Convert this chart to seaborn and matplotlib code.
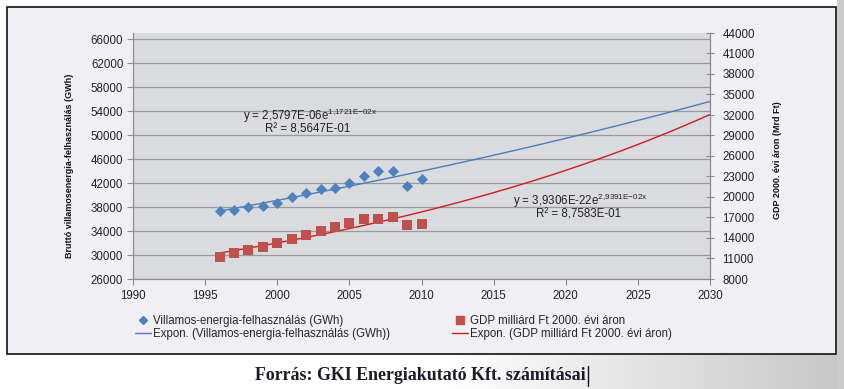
import numpy as np
import matplotlib
matplotlib.use("Agg")
import matplotlib.pyplot as plt
from matplotlib.lines import Line2D
from matplotlib.patches import Rectangle
from matplotlib import font_manager
import seaborn as sns
import pandas as pd

# ---------------- data ----------------
years = [1996, 1997, 1998, 1999, 2000, 2001, 2002, 2003, 2004, 2005, 2006, 2007, 2008, 2009, 2010]
elec_gwh = [37350, 37550, 37950, 38200, 38650, 39600, 40400, 41050, 41150, 41950, 43100, 44000, 43950, 41450, 42650]
gdp_mrd = [11250, 11750, 12300, 12700, 13300, 13900, 14450, 15000, 15650, 16250, 16750, 16800, 17000, 15850, 16100]

# exponential trend coefficients shown on chart: y = a * e^(b x)
elec_trend = [2.5797e-06, 1.1721e-02]
gdp_trend = [3.9306e-22, 2.9391e-02]
trend_span = [1996, 2030]

x_ticks = [1990, 1995, 2000, 2005, 2010, 2015, 2020, 2025, 2030]
left_ticks = [26000, 30000, 34000, 38000, 42000, 46000, 50000, 54000, 58000, 62000, 66000]
right_ticks = [8000, 11000, 14000, 17000, 20000, 23000, 26000, 29000, 32000, 35000, 38000, 41000, 44000]

label_elec = "Villamos-energia-felhasználás (GWh)"
label_gdp = "GDP milliárd Ft 2000. évi áron"
label_elec_tr = "Expon. (Villamos-energia-felhasználás (GWh))"
label_gdp_tr = "Expon. (GDP milliárd Ft 2000. évi áron)"
ylabel_left = "Bruttó villamosenergia-felhasználás (GWh)"
ylabel_right = "GDP 2000. évi áron (Mrd Ft)"
footer = "Forrás: GKI Energiakutató Kft. számításai"

# ---------------- style ----------------
sns.set_theme(style="white")
plt.rcParams["font.family"] = ["Liberation Sans", "DejaVu Sans"]
fonts = font_manager.fontManager.ttflist
names = {f.name for f in fonts}
if "Liberation Sans Narrow" in names:
    narrow_kw = dict(family="Liberation Sans Narrow")
else:
    narrow_kw = dict(family="Liberation Sans")

W, H = 844, 389
fig = plt.figure(figsize=(W / 100, H / 100), dpi=100)
fig.patch.set_facecolor("white")

def fx(px):
    return px / W

def fy(py):
    return 1 - py / H

# background: gradient strips outside the chart frame
bg = fig.add_axes([0, 0, 1, 1], zorder=-10)
img = np.ones((H, W, 3))
col = np.clip(np.linspace(1.25, 0.78, W), 0, 1)
img[354:, :, :] = col[None, :, None]
img[:, 837:, :] = 0.80
bg.imshow(img, aspect="auto", extent=[0, W, H, 0])
bg.set_axis_off()
bg.set_xlim(0, W)
bg.set_ylim(H, 0)
bg.add_patch(Rectangle((7, 7), 829, 347, facecolor="#f0f0f4", edgecolor="#111111", lw=1.2))

# main axes
ax = fig.add_axes([fx(133), fy(279), fx(710) - fx(133), fy(33) - fy(279)])
ax.set_facecolor("#dadbde")
ax2 = ax.twinx()

df_e = pd.DataFrame({"year": years, "val": elec_gwh})
df_g = pd.DataFrame({"year": years, "val": gdp_mrd})
tx = np.arange(trend_span[0], trend_span[1] + 1)
df_te = pd.DataFrame({"year": tx, "val": elec_trend[0] * np.exp(elec_trend[1] * tx)})
df_tg = pd.DataFrame({"year": tx, "val": gdp_trend[0] * np.exp(gdp_trend[1] * tx)})

blue = "#4f81bd"
red = "#c0504d"
sns.lineplot(data=df_te, x="year", y="val", ax=ax, color="#4a7ebb", lw=1.0, zorder=3)
sns.scatterplot(data=df_e, x="year", y="val", ax=ax, marker="D", color=blue, s=32,
                edgecolor=blue, linewidth=0, zorder=4)
sns.lineplot(data=df_tg, x="year", y="val", ax=ax2, color="#d01c1c", lw=1.0, zorder=3)
sns.scatterplot(data=df_g, x="year", y="val", ax=ax2, marker="s", color=red, s=62,
                edgecolor=red, linewidth=0, zorder=4)

ax.set_xlim(1990, 2030)
ax.set_ylim(26000, 67000)
ax2.set_ylim(8000, 44000)
ax.set_xticks(x_ticks)
ax.set_yticks(left_ticks)
ax2.set_yticks(right_ticks)
ax.set_xticklabels([str(v) for v in x_ticks])
ax.set_yticklabels([str(v) for v in left_ticks])
ax2.set_yticklabels([str(v) for v in right_ticks])
ax.yaxis.grid(True, color="#9a9a9e", lw=0.9)
ax.xaxis.grid(False)
ax.set_axisbelow(True)
ax.set_xlabel("")
ax.set_ylabel("")
ax2.set_ylabel("")

for a in (ax, ax2):
    for s in a.spines.values():
        s.set_visible(False)
ax.spines["left"].set_visible(True)
ax.spines["bottom"].set_visible(True)
ax2.spines["right"].set_visible(True)
for s in (ax.spines["left"], ax.spines["bottom"], ax2.spines["right"]):
    s.set_color("#8c8c90")
    s.set_linewidth(0.9)

ax.tick_params(axis="both", labelsize=8.3, colors="#8c8c90", labelcolor="#222222",
               length=4, width=0.8, direction="out", left=True, bottom=True, pad=3)
ax.tick_params(axis="x", pad=4)
ax2.tick_params(axis="y", labelsize=8.3, colors="#8c8c90", labelcolor="#222222",
                length=6, width=0.8, direction="inout", right=True, pad=6)

# axis titles, fitted to about the reference lengths
renderer = fig.canvas.get_renderer()

def fitted_text(xp, yp, s, target_len, size0=8.2, **kw):
    t = fig.text(fx(xp), fy(yp), s, rotation=90, ha="center", va="center",
                 fontsize=size0, weight="bold", color="#111111", **kw)
    ext = t.get_window_extent(renderer)
    if ext.height > target_len:
        t.set_fontsize(size0 * target_len / ext.height)
    return t

fitted_text(70, 166, ylabel_left, 184, **narrow_kw)
fitted_text(778, 160, ylabel_right, 118, **narrow_kw)

# trend equations
fig.text(fx(243), fy(116), r"y = 2,5797E-06e$^{\mathregular{1{,}1721E{-}02x}}$",
         ha="left", va="center", fontsize=8.3, color="#222222")
fig.text(fx(308), fy(129.5), r"R² = 8,5647E-01", ha="center", va="center",
         fontsize=8.3, color="#222222")
fig.text(fx(513), fy(201), r"y = 3,9306E-22e$^{\mathregular{2{,}9391E{-}02x}}$",
         ha="left", va="center", fontsize=8.3, color="#222222")
fig.text(fx(579), fy(214.5), r"R² = 8,7583E-01", ha="center", va="center",
         fontsize=8.3, color="#222222")

# legends
h1 = [Line2D([], [], marker="D", color=blue, ls="none", ms=4.2),
      Line2D([], [], color="#4a7ebb", lw=1.0)]
h2 = [Line2D([], [], marker="s", color=red, ls="none", ms=6.0),
      Line2D([], [], color="#d01c1c", lw=1.0)]
common = dict(loc="upper left", frameon=False, fontsize=8.3, handlelength=1.4,
              handletextpad=0.15, labelspacing=0.1, borderpad=0, borderaxespad=0)
fig.legend(h1, [label_elec, label_elec_tr], bbox_to_anchor=(fx(135), fy(315)), **common)
fig.legend(h2, [label_gdp, label_gdp_tr], bbox_to_anchor=(fx(452), fy(315)), **common)

# footer with text cursor bar right after it
ft = fig.text(fx(255), fy(376), footer, ha="left", va="center", fontsize=12.9,
              family=["Liberation Serif", "DejaVu Serif"], weight="bold", color="#1a1a2a")
fext = ft.get_window_extent(renderer)
xend = fext.x1 + 2
bg.plot([xend, xend], [366, 386], color="#111111", lw=1.0)

fig.savefig("out.png", dpi=100)
